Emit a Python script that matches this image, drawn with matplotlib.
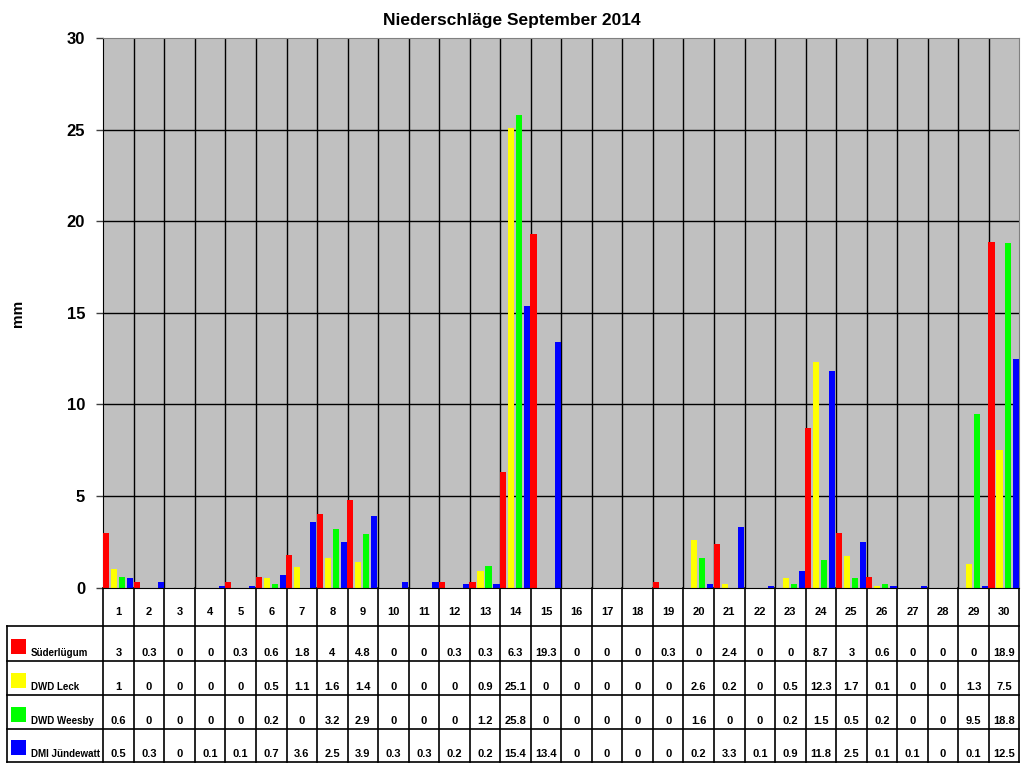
import matplotlib
matplotlib.use("Agg")
import matplotlib.pyplot as plt
import matplotlib.transforms as mtransforms
import numpy as np

days = [str(d) for d in range(1, 31)]
series_names = ["Süderlügum", "DWD Leck", "DWD Weesby", "DMI Jündewatt"]
series_colors = ["#FF0000", "#FFFF00", "#00FF00", "#0000FF"]

suederluegum = [3, 0.3, 0, 0, 0.3, 0.6, 1.8, 4, 4.8, 0, 0, 0.3, 0.3, 6.3, 19.3,
                0, 0, 0, 0.3, 0, 2.4, 0, 0, 8.7, 3, 0.6, 0, 0, 0, 18.9]
leck = [1, 0, 0, 0, 0, 0.5, 1.1, 1.6, 1.4, 0, 0, 0, 0.9, 25.1, 0,
        0, 0, 0, 0, 2.6, 0.2, 0, 0.5, 12.3, 1.7, 0.1, 0, 0, 1.3, 7.5]
weesby = [0.6, 0, 0, 0, 0, 0.2, 0, 3.2, 2.9, 0, 0, 0, 1.2, 25.8, 0,
          0, 0, 0, 0, 1.6, 0, 0, 0.2, 1.5, 0.5, 0.2, 0, 0, 9.5, 18.8]
juendewatt = [0.5, 0.3, 0, 0.1, 0.1, 0.7, 3.6, 2.5, 3.9, 0.3, 0.3, 0.2, 0.2, 15.4, 13.4,
              0, 0, 0, 0, 0.2, 3.3, 0.1, 0.9, 11.8, 2.5, 0.1, 0.1, 0, 0.1, 12.5]
series = [suederluegum, leck, weesby, juendewatt]

W, H = 1024, 768
fig = plt.figure(figsize=(W / 100, H / 100), dpi=100)
ax_left, ax_right, ax_top, ax_bot = 103.3, 1019.3, 38.3, 587.5
ax = fig.add_axes([ax_left / W, 1 - ax_bot / H, (ax_right - ax_left) / W, (ax_bot - ax_top) / H])

bold_arial = dict(family=["Liberation Sans", "DejaVu Sans"], weight="bold")

x = np.arange(len(days))
offsets = [-0.41, -0.147, 0.116, 0.379]
for vals, col, off in zip(series, series_colors, offsets):
    ax.bar(x + off, vals, width=0.2, color=col, linewidth=0, zorder=3)

ax.set_facecolor("#C0C0C0")
ax.set_xlim(-0.5, len(days) - 0.5)
ax.set_ylim(0, 30)
ax.set_yticks(range(0, 31, 5))
ax.set_yticklabels([str(v) for v in range(0, 31, 5)], fontsize=12, **bold_arial)
ax.set_xticks([])
ax.tick_params(axis="y", length=5, width=1, color="#404040", pad=8)
# horizontal grid (not at the top edge)
for v in range(5, 30, 5):
    ax.axhline(v, color="black", linewidth=1, zorder=1)
for k in range(1, len(days)):
    ax.axvline(k - 0.5, color="black", linewidth=1, zorder=1)
ax.spines["top"].set_color("#808080")
ax.spines["right"].set_color("#808080")
ax.spines["left"].set_color("black")
ax.spines["bottom"].set_color("black")
ax.spines["bottom"].set_zorder(4)

fig.text(512 / W, 1 - 20 / H, "Niederschläge September 2014", ha="center", va="center",
         fontsize=12.5, **bold_arial)
fig.text(18 / W, 1 - 313 / H, "mm", ha="center", va="center", rotation=90,
         fontsize=11, **bold_arial)

# data table below the chart
trans = mtransforms.blended_transform_factory(ax.transData, ax.transAxes)
col_w = (ax_right - ax_left) / len(days)


def yf(py):
    return (ax_bot - py) / (ax_bot - ax_top)


def xd(px):
    return -0.5 + (px - ax_left) / col_w


table_left = xd(6.7)
row_lines = [626, 660.5, 695, 728.5, 762]
line_kw = dict(color="black", linewidth=1.2, transform=trans, clip_on=False)

for k in range(len(days) + 1):
    ax.plot([k - 0.5, k - 0.5], [0, yf(row_lines[-1])], **line_kw)
for py in row_lines:
    ax.plot([table_left, len(days) - 0.5], [yf(py), yf(py)], **line_kw)
ax.plot([table_left, table_left], [yf(row_lines[0]), yf(row_lines[-1])], **line_kw)

for i, d in enumerate(days):
    ax.text(i, yf(612), d, ha="center", va="center", fontsize=8, transform=trans, **bold_arial)

for r, (name, col, vals) in enumerate(zip(series_names, series_colors, series)):
    top, bot = row_lines[r], row_lines[r + 1]
    ty = bot - 8
    for i, v in enumerate(vals):
        ax.text(i, yf(ty), f"{v:g}", ha="center", va="center", fontsize=8,
                transform=trans, **bold_arial)
    ax.add_patch(plt.Rectangle((xd(11), yf(bot - 7)), xd(26) - xd(11), yf(bot - 22) - yf(bot - 7),
                               facecolor=col, edgecolor="none", transform=trans, clip_on=False))
    ax.text(xd(30.5), yf(ty), name, ha="left", va="center", fontsize=7,
            transform=trans, **bold_arial)

fig.savefig("out.png", dpi=100)
